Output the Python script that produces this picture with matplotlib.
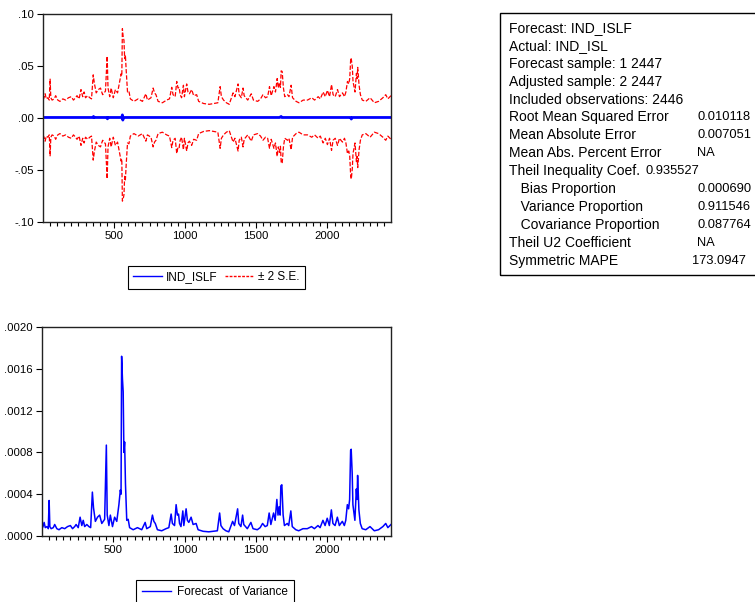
import numpy as np
import matplotlib
matplotlib.use('Agg')
import matplotlib.pyplot as plt
from matplotlib.ticker import FuncFormatter, MultipleLocator
from matplotlib.lines import Line2D
from matplotlib.patches import Rectangle

obs = [1, 8, 16, 24, 35, 45, 51, 56, 65, 80, 90, 105, 120, 140, 160, 180, 200, 215, 230, 240,
       255, 268, 280, 290, 300, 315, 330, 342, 354, 362, 375, 390, 405, 420, 440, 452, 458, 470,
       480, 495, 510, 525, 540, 550, 555, 559, 565, 570, 575, 580, 586, 595, 605, 615, 640, 670,
       700, 724, 735, 760, 775, 785, 795, 810, 840, 870, 890, 906, 915, 930, 941, 950, 958, 965,
       975, 988, 995, 1011, 1020, 1030, 1046, 1060, 1081, 1095, 1130, 1170, 1200, 1230, 1246,
       1255, 1270, 1290, 1310, 1337, 1350, 1372, 1380, 1395, 1407, 1415, 1440, 1465, 1480, 1510,
       1530, 1547, 1565, 1580, 1593, 1605, 1624, 1635, 1647, 1655, 1663, 1670, 1675, 1682, 1691,
       1700, 1720, 1730, 1745, 1755, 1780, 1800, 1830, 1860, 1890, 1910, 1935, 1950, 1970, 1985,
       2000, 2015, 2029, 2040, 2055, 2071, 2085, 2095, 2106, 2120, 2130, 2141, 2150, 2157, 2164,
       2168, 2175, 2180, 2194, 2204, 2209, 2213, 2218, 2222, 2232, 2245, 2270, 2300, 2330, 2360,
       2390, 2410, 2425, 2440, 2447]
var_e4 = [0.7, 0.9, 1.3, 0.8, 0.9, 0.7, 3.4, 0.9, 0.7, 0.8, 1.1, 0.7, 0.6, 0.8, 0.7, 0.9, 1.0, 0.7, 0.9, 1.1,
          0.8, 1.8, 1.0, 1.5, 0.9, 1.1, 0.9, 0.8, 4.2, 2.7, 1.4, 1.8, 2.0, 1.2, 1.6, 8.7, 2.0, 1.0,
          2.0, 0.9, 1.8, 1.4, 3.0, 4.4, 4.0, 17.2, 15.0, 13.8, 8.0, 9.0, 5.0, 1.5, 1.6, 0.8, 0.6, 0.8,
          0.6, 1.3, 0.7, 0.9, 2.0, 1.4, 1.2, 0.6, 0.5, 0.7, 0.8, 2.1, 1.2, 1.0, 3.0, 2.0, 2.1, 1.2,
          0.9, 2.4, 1.0, 2.6, 1.5, 1.3, 1.8, 1.1, 1.2, 0.6, 0.45, 0.4, 0.45, 0.5, 2.2,
          1.0, 0.7, 0.5, 0.4, 1.4, 1.0, 2.6, 1.2, 0.9, 2.0, 1.1, 0.7, 1.3, 0.7, 0.6,
          0.8, 1.2, 0.9, 1.0, 2.2, 1.1, 2.2, 1.5, 3.5, 2.0, 2.8, 2.0, 4.8, 4.9, 2.0,
          1.0, 1.2, 1.0, 2.4, 0.9, 0.6, 0.5, 0.7, 0.7, 0.9, 0.7, 1.0, 0.8, 1.5, 1.0,
          1.7, 1.0, 2.5, 1.2, 1.0, 1.8, 1.0, 1.2, 1.4, 1.0, 1.5, 3.0, 2.6, 3.5, 8.2,
          8.3, 6.0, 3.0, 1.5, 4.5, 3.5, 5.8, 4.0, 2.5, 1.2, 0.7, 0.6, 0.9, 0.5, 0.6,
          0.9, 1.2, 0.8, 1.0, 1.1]

# point forecast IND_ISLF
fc_obs = [1, 354, 356, 360, 452, 454, 458, 555, 559, 562, 566, 1663, 1675, 1680, 2164, 2168, 2175, 2447]
fc_val = [0.0005, 0.0005, 0.0015, 0.0005, 0.0005, -0.0008, 0.0005, 0.0005, 0.003, -0.002, 0.0005,
          0.0005, 0.0015, 0.0005, 0.0005, -0.0010, 0.0005, 0.0005]

stats_labels = ['Forecast: IND_ISLF', 'Actual: IND_ISL', 'Forecast sample: 1 2447',
                'Adjusted sample: 2 2447', 'Included observations: 2446',
                'Root Mean Squared Error', 'Mean Absolute Error', 'Mean Abs. Percent Error',
                'Theil Inequality Coef.', '   Bias Proportion', '   Variance Proportion',
                '   Covariance Proportion', 'Theil U2 Coefficient', 'Symmetric MAPE']
stats_values = ['', '', '', '', '', '0.010118', '0.007051', 'NA', '0.935527',
                '0.000690', '0.911546', '0.087764', 'NA', '173.0947']

BLUE = '#0000ff'
RED = '#ff0000'
W, H = 755, 602

plt.rcParams['font.family'] = ['Liberation Sans', 'DejaVu Sans']

obs_a = np.array(obs)
var = np.array(var_e4) * 1e-4
fc_a = np.interp(obs_a, fc_obs, fc_val)
se2 = 2 * np.sqrt(var)

fig = plt.figure(figsize=(W / 100, H / 100), dpi=100)


def setup(ax, ylim, yticks, fmt):
    ax.set_xlim(1, 2447)
    ax.set_ylim(*ylim)
    ax.set_yticks(yticks)
    ax.yaxis.set_major_formatter(FuncFormatter(fmt))
    ax.set_xticks([500, 1000, 1500, 2000])
    ax.xaxis.set_minor_locator(MultipleLocator(50))
    ax.tick_params(axis='both', which='both', direction='out', length=4, width=0.8,
                   labelsize=8.2, pad=2.5, color='black')
    ax.tick_params(axis='x', which='minor', length=3)
    for s in ax.spines.values():
        s.set_linewidth(1.0)
        s.set_color('#222222')


def fmt_top(v, p):
    s = '%.2f' % v
    return s.replace('0.', '.')


def fmt_bot(v, p):
    s = '%.4f' % v
    return s.replace('0.', '.', 1)


# top panel
ax1 = fig.add_axes([43 / W, 1 - 222 / H, 348 / W, 208 / H])
ax1.plot(obs, fc_a + se2, color=RED, lw=0.9, ls=(0, (3.5, 1.5)))
ax1.plot(obs, fc_a - se2, color=RED, lw=0.9, ls=(0, (3.5, 1.5)))
ax1.plot(fc_obs, fc_val, color=BLUE, lw=2.0)
setup(ax1, (-0.1, 0.1), [-0.1, -0.05, 0.0, 0.05, 0.1], fmt_top)

h1 = [Line2D([], [], color=BLUE, lw=1.0), Line2D([], [], color=RED, lw=1.0, ls=(0, (2, 1)))]
leg1 = fig.legend(h1, ['IND_ISLF', '± 2 S.E.'], loc='upper left',
                  bbox_to_anchor=(128 / W, 1 - 266 / H), ncol=2, fontsize=8.5,
                  frameon=True, fancybox=False, edgecolor='black', framealpha=1,
                  handlelength=2.4, handletextpad=0.4, columnspacing=0.6, borderpad=0.45,
                  borderaxespad=0)
leg1.get_frame().set_linewidth(0.8)

# bottom panel
ax2 = fig.add_axes([42 / W, 1 - 536 / H, 349 / W, 209 / H])
ax2.plot(obs, var, color=BLUE, lw=1.1)
setup(ax2, (0, 0.002), [0, 0.0004, 0.0008, 0.0012, 0.0016, 0.002], fmt_bot)

h2 = [Line2D([], [], color=BLUE, lw=1.0)]
leg2 = fig.legend(h2, ['Forecast  of Variance'], loc='upper left',
                  bbox_to_anchor=(136 / W, 1 - 580 / H), fontsize=8.5,
                  frameon=True, fancybox=False, edgecolor='black', framealpha=1,
                  handlelength=2.4, handletextpad=0.5, borderpad=0.55, borderaxespad=0)
leg2.get_frame().set_linewidth(0.8)

# statistics box
fig.patches.append(Rectangle((500 / W, 1 - 275 / H), 300 / W, 262 / H, transform=fig.transFigure,
                             fill=False, edgecolor='black', lw=1.0))
for i, (lab, val) in enumerate(zip(stats_labels, stats_values)):
    y = 1 - (28 + i * 17.9) / H
    fig.text(509 / W, y, lab, fontsize=10, va='center', ha='left')
    if val:
        if i == 8:
            vx = 646
        elif i == 13:
            vx = 692
        else:
            vx = 697
        fig.text(vx / W, y, val, fontsize=9.3, va='center', ha='left')

fig.savefig('out.png', dpi=100)
